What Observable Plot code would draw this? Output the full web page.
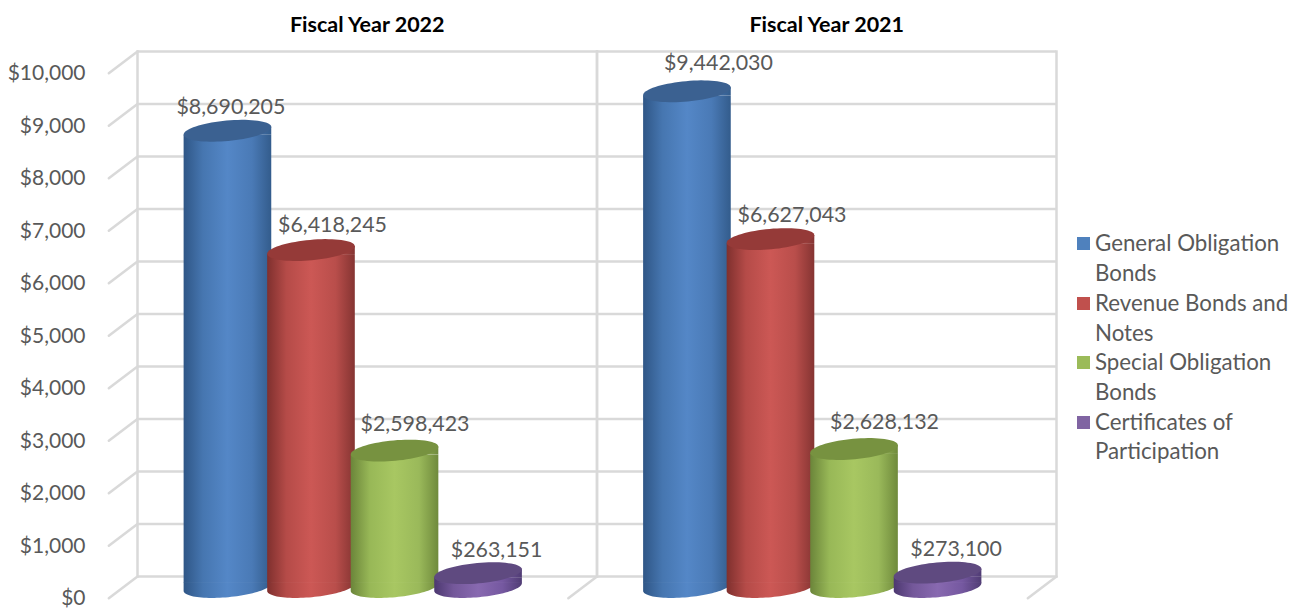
<!DOCTYPE html>
<html>
<head>
<meta charset="utf-8">
<script src="https://cdn.jsdelivr.net/npm/d3@7"></script>
<script src="https://cdn.jsdelivr.net/npm/@observablehq/plot@0.6"></script>
<style>
  html, body { margin: 0; padding: 0; background: #fff; }
  #wrap { position: relative; width: 1297px; height: 608px; overflow: hidden; font-family: Lato, sans-serif; }
  #legend { position: absolute; left: 1077px; top: 228.4px; color: #595959; font-size: 22.3px; line-height: 29.7px; }
  #legend .item { display: flex; align-items: flex-start; }
  #legend .sw { width: 13px; height: 13px; margin: 9px 5px 0 0; flex: none; }
  #legend .txt { white-space: pre; }
</style>
</head>
<body>
<div id="wrap"></div>
<script>
const years = ["Fiscal Year 2022", "Fiscal Year 2021"];
const series = ["General Obligation Bonds", "Revenue Bonds and Notes", "Special Obligation Bonds", "Certificates of Participation"];
const legendLabels = ["General Obligation\nBonds", "Revenue Bonds and\nNotes", "Special Obligation\nBonds", "Certificates of\nParticipation"];
const values2022 = [8690205, 6418245, 2598423, 263151];
const values2021 = [9442030, 6627043, 2628132, 273100];
const axisTicks = [0, 1000000, 2000000, 3000000, 4000000, 5000000, 6000000, 7000000, 8000000, 9000000, 10000000];

// styling only
const gridColor = "#d9d9d9";
const textColor = "#595959";
const swatch = ["#4f81bd", "#c0504d", "#9bbb59", "#8064a2"];
const capColor = ["#3b6191", "#953a38", "#779240", "#5f4a80"];
const ramps = [
  ["#2f5686", "#4676b0", "#5487c7", "#4a7ab6", "#335c8c"],
  ["#7f302e", "#b54b48", "#cc5855", "#b94e4b", "#853432"],
  ["#6b853a", "#98b857", "#a8c762", "#9ab95a", "#6f8a3c"],
  ["#4c3870", "#74589a", "#8869b0", "#7558a0", "#503c74"]
];
const labelNudge = [
  [[3, -24], [21, -25], [20, -27], [18, -24]],
  [[31, -29], [21, -24], [30, -27], [18, -24]]
];

const rows = [
  ...series.map((s, i) => ({year: years[0], series: s, value: values2022[i], si: i, yi: 0})),
  ...series.map((s, i) => ({year: years[1], series: s, value: values2021[i], si: i, yi: 1}))
];

const money = d3.format(",");

// tilted cap of the cylinder
const A = 44, B = 10.2, TILT = Math.atan(0.092), E = 4.05;
const ptOn = t => {
  const c = Math.cos(TILT), s = Math.sin(TILT);
  const ex = A * Math.cos(t), ey = B * Math.sin(t);
  return [ex * c + ey * s, -ex * s + ey * c];
};
const ellipse = {
  draw(ctx) {
    const n = 72;
    for (let i = 0; i <= n; i++) {
      const [px, py] = ptOn(i / n * 2 * Math.PI);
      if (i === 0) ctx.moveTo(px, py); else ctx.lineTo(px, py);
    }
    ctx.closePath();
  }
};
// wedge that fills the body up to the slanted cap's ends
const wedge = {
  draw(ctx) {
    const [lx, ly] = ptOn(Math.PI), [rx, ry] = ptOn(0);
    ctx.moveTo(lx, ly);
    ctx.lineTo(rx, ry);
    ctx.lineTo(rx, ly);
    ctx.lineTo(lx, ly);
    ctx.closePath();
  }
};
// lower end of the body: front half of the tilted ellipse
const bottom = {
  draw(ctx) {
    const [lx, ly] = ptOn(Math.PI), [rx, ry] = ptOn(0), n = 48;
    ctx.moveTo(lx, ry - 0.5);
    ctx.lineTo(rx, ry - 0.5);
    for (let i = 0; i <= n; i++) {
      const [px, py] = ptOn(i / n * Math.PI);
      ctx.lineTo(px, py);
    }
    ctx.closePath();
  }
};
const stroke1 = {
  draw(ctx, l) { ctx.moveTo(0, 0); ctx.lineTo(0, -l); }
};

const defs = () => {
  const d = d3.create("svg:defs");
  ramps.forEach((stops, i) => {
    const g = d.append("linearGradient").attr("id", "cyl" + i).attr("x1", 0).attr("x2", 1).attr("y1", 0).attr("y2", 0);
    stops.forEach((c, k) => g.append("stop").attr("offset", [0, 0.22, 0.5, 0.78, 1][k]).attr("stop-color", c));
  });
  return d.node();
};

const DX = -14, DY = 11;
const wall = {stroke: gridColor, strokeWidth: 2.5};

const cylinders = series.flatMap((s, i) => {
  const d = rows.filter(r => r.si === i);
  const common = {x: "series", fx: "year"};
  const barPos = {...common, dx: DX, dy: DY};
  const dotPos = {...common, dx: DX - 0.5, dy: DY - 0.5}; // dots carry Plot's half-pixel offset, bars do not
  const fill = `url(#cyl${i})`;
  return [
    Plot.barY(d, {...barPos, y: "value", fill, insetTop: E, insetBottom: E, insetLeft: -2.05, insetRight: -2.05}),
    Plot.dot(d, {...dotPos, y: () => 0, symbol: bottom, fill}),
    Plot.dot(d, {...dotPos, y: "value", symbol: wedge, fill}),
    Plot.dot(d, {...dotPos, y: "value", symbol: ellipse, fill: capColor[i]})
  ];
});

const labels = rows.map(r => Plot.text([r], {
  x: "series", fx: "year", y: "value",
  text: d => "$" + money(d.value),
  dx: DX + labelNudge[r.yi][r.si][0],
  dy: DY + labelNudge[r.yi][r.si][1],
  fill: textColor, fontSize: 21.4
}));

const chart = Plot.plot({
  width: 1297, height: 608,
  marginLeft: 137, marginRight: 241, marginTop: 51, marginBottom: 32,
  style: {fontFamily: "Lato, sans-serif", background: "white", overflow: "visible"},
  fx: {domain: years, padding: 0, label: null, round: false},
  x: {domain: series, paddingInner: 0, paddingOuter: 0.75, axis: null, round: false},
  y: {domain: [0, 10000000], label: null},
  marks: [
    defs,
    Plot.ruleY(axisTicks, {...wall}),
    Plot.frame({anchor: "left", ...wall}),
    Plot.frame({anchor: "right", ...wall}),
    Plot.vector(axisTicks, {y: d => d, fx: () => years[0], frameAnchor: "left", length: 36, rotate: 232.8, anchor: "start", shape: stroke1, ...wall}),
    Plot.vector([0], {y: d => d, frameAnchor: "right", length: 36, rotate: 232.8, anchor: "start", shape: stroke1, ...wall}),
    Plot.axisY({
      anchor: "left", ticks: axisTicks, tickSize: 0, tickPadding: 52, dy: 22, label: null,
      tickFormat: d => "$" + money(d / 1000), color: textColor, fontSize: 21
    }),
    Plot.axisFx({
      anchor: "top", tickSize: 0, tickPadding: 20, label: null,
      color: "#000", fontSize: 21.5, fontWeight: 700
    }),
    ...cylinders,
    ...labels
  ]
});

const wrap = document.getElementById("wrap");
wrap.appendChild(chart);

const legend = document.createElement("div");
legend.id = "legend";
legendLabels.forEach((t, i) => {
  const item = document.createElement("div");
  item.className = "item";
  const sw = document.createElement("span");
  sw.className = "sw";
  sw.style.background = swatch[i];
  const tx = document.createElement("span");
  tx.className = "txt";
  tx.textContent = t;
  item.append(sw, tx);
  legend.appendChild(item);
});
wrap.appendChild(legend);
</script>
</body>
</html>
